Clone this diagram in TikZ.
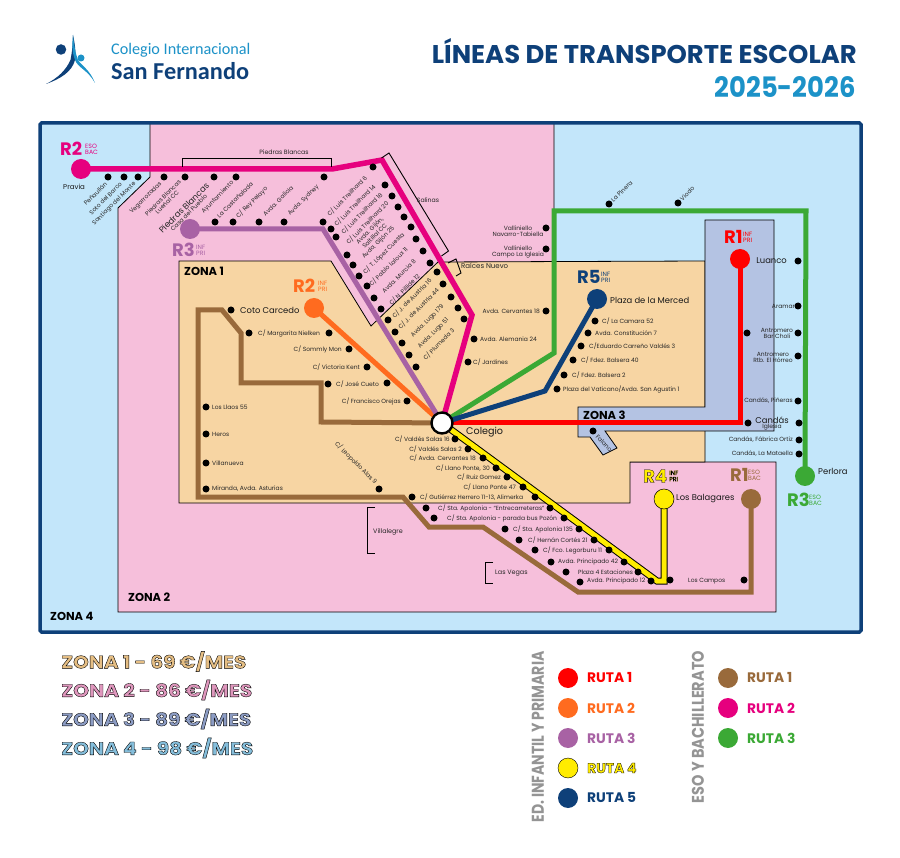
\documentclass[tikz,border=0pt]{standalone}
\usepackage{graphicx}
\usepackage{fontspec}
\setmainfont{Poppins}
\newfontfamily\logofont{Carlito}
\usetikzlibrary{calc}
\pgfdeclarelayer{zonelayer}
\pgfdeclarelayer{routelayer}
\pgfsetlayers{zonelayer,routelayer,main}
\definecolor{zsky}{HTML}{C3E6FA}
\definecolor{zpink}{HTML}{F6BFDB}
\definecolor{zsand}{HTML}{F7D5A3}
\definecolor{zblue}{HTML}{B4C3E3}
\definecolor{navy}{HTML}{0E4079}
\definecolor{rred}{HTML}{FF0000}
\definecolor{rorange}{HTML}{FF6B1F}
\definecolor{rpurple}{HTML}{A862A4}
\definecolor{ryellow}{HTML}{FFEC00}
\definecolor{rbrown}{HTML}{996A3B}
\definecolor{rpink}{HTML}{E6007E}
\definecolor{rgreen}{HTML}{3BA935}
\definecolor{skyb}{HTML}{1C92C8}
\newcommand\fsz[1]{\fontsize{#1}{#1}\selectfont}
\newcommand\inked[2][0.3]{\special{pdf:code 2 Tr #1 w 0 0 0 RG}#2\special{pdf:code 0 Tr}}
\tikzset{
  zone/.style={draw=black,line width=0.8pt},
  route/.style={line width=5pt,line join=miter},
  dot/.style={circle,fill=black,minimum size=7pt,inner sep=0pt},
  term/.style={circle,minimum size=20pt,inner sep=0pt},
  lbl/.style={inner sep=0pt,font=\fsz{6},text=black!85},
  lbc/.style={lbl,align=center},
  place/.style={inner sep=0pt,font=\fsz{8.4},text=black!90},
  brk/.style={draw=black,line width=0.9pt},
  zonet/.style={inner sep=0pt,font=\bfseries\fsz{11.5},anchor=west},
  rbig/.style={inner sep=0pt,font=\bfseries\fsz{18},anchor=west},
  rsmall/.style={inner sep=0pt,font=\fsz{6.2},anchor=west,align=left},
  leg/.style={inner sep=0pt,font=\bfseries\fsz{13.8},anchor=west},
  vert/.style={inner sep=0pt,rotate=90,text=black!42,font=\bfseries},
  zleg/.style={inner sep=0pt,anchor=west},
}
\begin{document}
\begin{tikzpicture}[x=1pt,y=-1pt]
\useasboundingbox (0,0) rectangle (900,858);
% ---------------- zones
\begin{pgfonlayer}{zonelayer}
\fill[white] (0,0) rectangle (900,858);
\fill[zsky] (40,123) rectangle (861,632);
\draw[zone,fill=zpink] (150,124) -- (150,177) -- (118,208) -- (118,612) -- (776,612) -- (776,462) -- (554,462) -- (554,124);
\draw[zone,fill=zsand] (179,261) -- (331,261) -- (371,326) -- (438,262) -- (705,261) -- (705,462) -- (630,462) -- (630,503) -- (179,503) -- cycle;
\draw[zone,fill=zblue] (705,312) -- (705,220) -- (774,220) -- (774,431) -- (605,431) -- (617,448) -- (603,455) -- (590,437) -- (578,437) -- (578,407) -- (705,407) -- cycle;
\draw[navy,line width=3.5pt,rounded corners=1.5pt] (40,123) rectangle (861,632);
\end{pgfonlayer}
% ---------------- terminals and school
\node[circle,fill=white,draw=black,line width=2.4pt,minimum size=21pt,inner sep=0pt] (colegio) at (442,423) {};
\node[term,fill=rpink] (pravia) at (81,169) {};
\node[term,fill=rpurple] (piedras) at (190,229) {};
\node[term,fill=rorange] (coto) at (314,308) {};
\node[term,fill=rred] (luanco) at (740,259) {};
\node[term,fill=navy] (merced) at (597,299) {};
\node[term,fill=rgreen] (perlora) at (805,476) {};
\node[term,fill=rbrown] (campos) at (751,499) {};
\node[term,fill=ryellow,draw=black,line width=0.5pt] (balagares) at (664,499) {};
% ---------------- routes
\begin{pgfonlayer}{routelayer}
\draw[route,rbrown] (campos.center) -- (751,592) -- (578,592) -- (483,527) -- (429,527) -- (403,497) -- (198,497) -- (198,310) -- (222,310) -- (241,333) -- (241,383) -- (321,383) -- (321,422) -- (colegio.center);
\draw[route,black,line width=7pt] (balagares.center) -- (664,581) -- (657,581) -- (colegio.center);
\draw[route,ryellow] (balagares.center) -- (664,581) -- (657,581) -- (colegio.center);
\draw[route,rred] (luanco.center) -- (740,423) -- (colegio.center);
\draw[route,rorange] (coto.center) -- (colegio.center);
\draw[route,rpurple] (piedras.center) -- (323,229) -- (colegio.center);
\draw[route,rgreen] (perlora.center) -- (806,211) -- (554,211) -- (554,353) -- (colegio.center);
\draw[route,navy] (merced.center) -- (545,391) -- (colegio.center);
\draw[route,rpink,line width=5.5pt] (pravia.center) -- (332,169) -- (382,160) -- (472,315) -- (colegio.center);
\end{pgfonlayer}
% ---------------- brackets
\draw[brk] (182,167) -- (182,158) -- (331,158) -- (331,167);
\draw[brk] (381.5,158) -- (389,153) -- (448.5,251) -- (441.5,256);
\draw[brk] (448,263) -- (456,259) -- (461,273) -- (456,276);
\draw[brk] (375,507) -- (367,507) -- (367,553) -- (375,553);
\draw[brk] (493,562) -- (485,562) -- (485,583) -- (493,583);
% ---------------- stops
\foreach \x/\y [count=\i] in {108/177,124/177,138/177,164/177,185/177,214/177,236/177,324/177,
  215/222,233/222,259/222,284/222,323/222,331/229,336/237,347/255,353/265,359/276,367/286,374/298,381/309,
  373/167,385/185,392/196,398/207,404/217,411/227,416/239,423/251,430/263,
  437/272,443/284,451/297,458/308,464/319,388/320,395/332,402/343,409/355,416/367,
  474/339,468/362,546/311,546/228,546/249,609/204,678/203,
  798/261,798/306,798/333,747/333,798/356,798/401,799/423,748/423,799/440,799/454,
  593/431,595/321,588/333,581/346,573/360,564/375,557/389,
  231/310,249/333,329/333,349/349,367/367,387/383,407/401,328/384,
  206/407,206/434,206/463,206/489,379/489,
  455/439,468/449,483/458,496/468,507/477,523/487,412/497,535/497,426/508,550/508,434/518,564/518,
  505/529,579/529,519/540,594/540,535/550,609/550,551/562,624/562,566/572,638/572,580/582,651/581,670/580,744/580}
  \node[dot] (st\i) at (\x,\y) {};
% ---------------- rotated labels
\node[lbl,rotate=45,anchor=east] (l1) at (106,183) {Peñaullán};
\node[lbl,rotate=45,anchor=east] (l2) at (121,183) {Soto del Barco};
\node[lbl,rotate=45,anchor=east] (l3) at (135,183) {Santiago del Monte};
\node[lbl,rotate=45,anchor=east] (l4) at (161,183) {Vegarrozadas};
\node[lbc,rotate=45,anchor=east] (l5) at (182,183) {Piedras Blancas\\Lueñal CC};
\node[lbc,rotate=45] (l6) at (186,210) {{\fsz{8.4}Piedras Blancas}\\Casa del Pueblo};
\node[lbl,rotate=45,anchor=east] (l7) at (233,182) {Ayuntamiento};
\node[lbl,rotate=45,anchor=west] (l8) at (218,217) {La Castañalada};
\node[lbl,rotate=45,anchor=west] (l9) at (237,217) {C/ Rey Pelayo};
\node[lbl,rotate=45,anchor=west] (l10) at (264,215) {Avda. Galicia};
\node[lbl,rotate=45,anchor=west] (l11) at (289,215) {Avda. Sydney};
\node[lbl,rotate=45,anchor=west] (l12) at (328,215) {C/ Luis Treilhard 6};
\node[lbl,rotate=45,anchor=west] (l13) at (335,225) {C/ Luis Treilhard 14};
\node[lbl,rotate=45,anchor=west] (l14) at (342,233) {C/ Luis Treilhard 18};
\node[lbl,rotate=45,anchor=west] (l15) at (347,243) {C/ Luis Treilhard 20};
\node[lbc,rotate=45] (l16) at (372,233) {Avda. Gijón,\\Saltillal CC};
\node[lbl,rotate=45,anchor=west] (l17) at (363,258) {Avda. Gijón 25};
\node[lbl,rotate=45,anchor=west] (l18) at (364,273) {C/ T. López Cuesta};
\node[lbl,rotate=45,anchor=west] (l19) at (370,285) {C/ Pablo Laloux 11};
\node[lbl,rotate=45,anchor=west] (l20) at (383,292) {Avda. Murcia 8};
\node[lbl,rotate=45,anchor=west] (l21) at (390,304) {C/ N. Pillide 12};
\node[lbl,rotate=45,anchor=west] (l22) at (393,317) {C/ J. de Austria 16};
\node[lbl,rotate=45,anchor=west] (l23) at (399,328) {C/ J. de Austria 44};
\node[lbl,rotate=45,anchor=west] (l24) at (412,337) {Avda. Lugo 179};
\node[lbl,rotate=45,anchor=west] (l25) at (419,348) {Avda. Lugo 51};
\node[lbl,rotate=45,anchor=west] (l26) at (424,359) {C/ Plumeda 3};
\node[lbl,rotate=45,anchor=west] (l27) at (612,201) {La Pinera};
\node[lbl,rotate=45,anchor=west] (l28) at (681,200) {Viodo};
\node[lbl,rotate=-45,anchor=west] (l29) at (336,443) {C/ Leopoldo Alas 9};
\node[lbl,rotate=-45] (l30) at (604,443) {Falano};
% ---------------- right-aligned labels
\foreach \x/\y/\t [count=\i] in {540/311/{Avda. Cervantes 18},342/349/{C/ Sommly Mon},360/367/{C/ Victoria Kent},401/401/{C/ Francisco Orejas},
  450/439/{C/ Valdés Salas 16},462/449/{C/ Valdés Salas 2},476/458/{C/ Avda. Cervantes 18},490/468/{C/ Llano Ponte, 30},501/477/{C/ Ruiz Gomez},516/487/{C/ Llano Ponte 47},
  795/306/{Aramar},793/401/{Candás, Piñeras},793/440/{Candás, Fábrica Ortiz},793/454/{Candás, La Mataella}}
  \node[lbl,anchor=east] (rl\i) at (\x,\y) {\t};
% ---------------- left-aligned labels
\foreach \x/\y/\t [count=\i] in {480/339/{Avda. Alemania 24},473/362/{C/ Jardines},
  602/321/{C/ La Camara 52},595/333/{Avda. Constitución 7},589/346/{C/Eduardo Carreño Valdés 3},581/360/{C/ Fdez. Balsera 40},572/375/{C/ Fdez. Balsera 2},563/389/{Plaza del Vaticano/Avda. San Agustín 1},
  258/333/{C/ Margarita Nielken},336/384/{C/ José Cueto},
  212/407/{Los Llaos 55},212/434/{Heros},212/463/{Villanueva},212/489/{Miranda, Avda. Asturias},
  420/497/{C/ Gutiérrez Herrero 11-13, Alimerka},438/508/{C/ Sta. Apolonia - ``Entrecarreteras''},447/518/{C/ Sta. Apolonia - parada bus Pozón},
  513/529/{C/ Sta. Apolonia 135},528/540/{C/ Hernán Cortés 21},543/550/{C/ Fco. Legorburu 11},558/562/{Avda. Principado 42},578/572/{Plaza 4 Estaciones},587/581/{Avda. Principado 12},688/581/{Los Campos}}
  \node[lbl,anchor=west] (ll\i) at (\x,\y) {\t};
% ---------------- centred labels
\node[lbc] (c1) at (518,231) {Valliniello\\Navarro-Tabiella};
\node[lbc] (c2) at (518,252) {Valliniello\\Campo La Iglesia};
\node[lbc] (c3) at (777,333) {Antromero\\Bar Choli};
\node[lbc] (c4) at (773,357) {Antromero\\Rtb. El Hórreo};
\node[lbc] (c5) at (772,427) {Iglesia};
% ---------------- place names
\node[place,anchor=west,font=\fsz{7}] (p1) at (63,187) {Pravia};
\node[lbl,font=\fsz{6.2}] (p2) at (284,152) {Piedras Blancas};
\node[lbl,font=\fsz{6.2}] (p3) at (428,200) {Salinas};
\node[lbl,font=\fsz{7},anchor=west] (p4) at (461,266) {Raíces Nuevo};
\node[lbl,font=\fsz{6.4},anchor=west] (p5) at (373,532) {Villalegre};
\node[lbl,font=\fsz{6.4},anchor=west] (p6) at (495,573) {Las Vegas};
\node[place,anchor=west] (p7) at (240,310) {Coto Carcedo};
\node[place,anchor=west] (p8) at (610,300) {Plaza de la Merced};
\node[place,anchor=east] (p9) at (787,261) {Luanco};
\node[place] (p10) at (772,420) {Candás};
\node[place,anchor=west] (p11) at (818,471) {Perlora};
\node[place,anchor=west] (p12) at (676,499) {Los Balagares};
\node[place,anchor=west,font=\fsz{9.6}] (p13) at (466,432) {Colegio};
% ---------------- zone names
\node[zonet] (z1) at (184,271) {ZONA 1};
\node[zonet] (z2) at (128,597) {ZONA 2};
\node[zonet] (z3) at (583,415) {ZONA 3};
\node[zonet] (z4) at (50,616) {ZONA 4};
% ---------------- route badges
\node[rbig,text=rpink] (b1) at (60,149) {R2};
\node[rsmall,text=rpink] (b1s) at (85,149) {ESO\\BAC};
\node[rbig,text=rpurple] (b2) at (172,250) {R3};
\node[rsmall,text=rpurple] (b2s) at (196,250) {INF\\PRI};
\node[rbig,text=rorange] (b3) at (293,286) {R2};
\node[rsmall,text=rorange] (b3s) at (318,286) {INF\\PRI};
\node[rbig,text=rred] (b4) at (724,237) {R1};
\node[rsmall,text=rred] (b4s) at (743,237) {INF\\PRI};
\node[rbig,text=navy] (b5) at (577,277) {R5};
\node[rsmall,text=navy] (b5s) at (601,277) {INF\\PRI};
\node[rbig,text=ryellow] (b6) at (643,476) {\inked{R4}};
\node[rsmall,text=ryellow] (b6s) at (669,476) {\inked[0.25]{INF}\\\inked[0.25]{PRI}};
\node[rbig,text=rbrown] (b7) at (730,475) {R1};
\node[rsmall,text=rbrown] (b7s) at (748,475) {ESO\\BAC};
\node[rbig,text=rgreen] (b8) at (787,500) {R3};
\node[rsmall,text=rgreen] (b8s) at (809,500) {ESO\\BAC};
% ---------------- header
\fill[navy] (70.5,60) .. controls (66,70) and (58,78) .. (46,84) .. controls (60,79) and (72,72) .. (75,60) .. controls (76,52) and (75,44) .. (73,35) .. controls (73,44) and (72,52) .. (70.5,60) -- cycle;
\fill[skyb] (75,60) .. controls (78,68) and (88,70) .. (95,83) .. controls (90,70) and (82,66) .. (78,60) .. controls (75,52) and (74,44) .. (73,35) .. controls (72,44) and (72,52) .. (75,60) -- cycle;
\node[circle,fill=navy,minimum size=10.5pt,inner sep=0pt] (logoa) at (61,49.5) {};
\node[circle,fill=skyb,minimum size=7pt,inner sep=0pt] (logob) at (81,58) {};
\node[inner sep=0pt,anchor=west,text=skyb,font=\logofont\fsz{16.2}] (lg1) at (111,50) {Colegio Internacional};
\node[inner sep=0pt,anchor=west,text=navy,font=\logofont\bfseries\fsz{24.3}] (lg2) at (111,71) {San Fernando};
\node[inner sep=0pt,anchor=south east,text=navy,font=\bfseries] (t1) at (857,63.5) {\resizebox{425pt}{25pt}{LÍNEAS DE TRANSPORTE ESCOLAR}};
\node[inner sep=0pt,anchor=south east,text=skyb,font=\bfseries] (t2) at (856,98) {\resizebox{141pt}{21pt}{2025-2026}};
% ---------------- zone prices
\definecolor{lz1}{HTML}{E5BE84}\definecolor{lz2}{HTML}{DF97BD}\definecolor{lz3}{HTML}{8C9CC4}\definecolor{lz4}{HTML}{85BEDB}
\node[zleg,text=lz1] (za) at (61,661.5) {\resizebox{185pt}{17pt}{\inked[0.2]{\bfseries ZONA 1 - 69 €/MES}}};
\node[zleg,text=lz2] (zb) at (61,690) {\resizebox{191pt}{17pt}{\inked[0.2]{\bfseries ZONA 2 - 86 €/MES}}};
\node[zleg,text=lz3] (zc) at (61,719) {\resizebox{190pt}{17pt}{\inked[0.2]{\bfseries ZONA 3 - 89 €/MES}}};
\node[zleg,text=lz4] (zd) at (61,748) {\resizebox{192pt}{17pt}{\inked[0.2]{\bfseries ZONA 4 - 98 €/MES}}};
% ---------------- route legend
\node[vert] (va) at (538,737) {\resizebox{171pt}{12pt}{ED. INFANTIL Y PRIMARIA}};
\node[vert] (vb) at (698,727) {\resizebox{152pt}{12pt}{ESO Y BACHILLERATO}};
\foreach \y/\c/\t [count=\i] in {678/rred/RUTA 1,708/rorange/RUTA 2,738/rpurple/RUTA 3,798/navy/RUTA 5}{
  \node[term,fill=\c] (lga\i) at (568,\y) {};
  \node[leg,text=\c] (lgt\i) at (587,\y) {\t};}
\node[term,fill=ryellow,draw=black,line width=0.4pt] (lga4) at (568,768) {};
\node[leg,text=ryellow] (lgt4) at (587,768) {\inked{RUTA 4}};
\foreach \y/\c/\t [count=\i] in {678/rbrown/RUTA 1,708/rpink/RUTA 2,738/rgreen/RUTA 3}{
  \node[term,fill=\c] (lgb\i) at (728,\y) {};
  \node[leg,text=\c] (lgu\i) at (747,\y) {\t};}
\end{tikzpicture}
\end{document}
